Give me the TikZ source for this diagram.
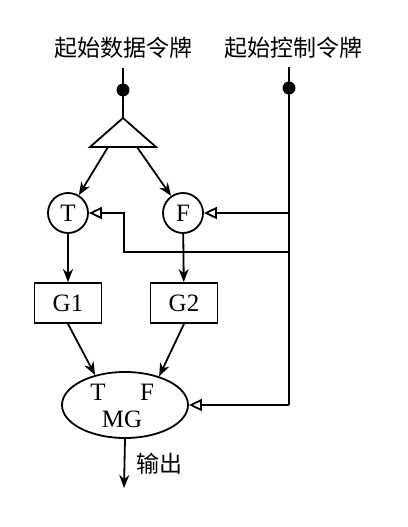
\documentclass[tikz,border=0pt]{standalone}
\usepackage{fontspec}
\setmainfont{Liberation Serif}
\newfontfamily\cjk{Noto Sans CJK SC}
\usetikzlibrary{arrows.meta, shapes.geometric, positioning}
\tikzset{
    tok/.style={font=\cjk\fontsize{23}{26}\selectfont},
    place/.style={draw, circle, minimum size=40pt, inner sep=0pt},
    gate/.style={draw, minimum width=67pt, minimum height=40pt, inner sep=0pt},
    merge/.style={draw, ellipse, minimum width=126pt, minimum height=66pt},
    tokdot/.style={circle, fill, inner sep=0pt, minimum size=13pt},
    dataarrow/.style={-{Stealth[length=13pt, width=10pt, inset=4pt]}},
    ctrlarrow/.style={-{Triangle[open, length=13pt, width=12pt]}},
}

\begin{document}
\begin{tikzpicture}[x=1pt, y=-1pt, line width=1.8pt,
        font=\fontsize{25}{28}\selectfont]
        \useasboundingbox (0, 0) rectangle (407, 527);
        \node[tok] (datalabel) at (123, 48) {起始数据令牌};
        \node[tok] (ctrllabel) at (293, 48) {起始控制令牌};
        \coordinate (datatop) at (123, 68);
        \coordinate (ctrltop) at (289, 67);
        \node[tokdot] (datadot) at (123, 90) {};
        \node[tokdot] (ctrldot) at (289, 88) {};
        % split
        \coordinate (apex) at (123, 118);
        \coordinate (baseL) at (90, 147);
        \coordinate (baseR) at (156, 147);
        \coordinate (outL) at (108, 147);
        \coordinate (outR) at (137, 147);
        \draw (datatop) -- (apex);
        \draw (apex) -- (baseL) -- (baseR) -- cycle;
        \node[place] (t) at (68, 213) {T};
        \node[place] (f) at (183, 213) {F};
        \draw[dataarrow] (outL) -- (t);
        \draw[dataarrow] (outR) -- (f);
        \node[gate] (g1) at (68, 303) {G1};
        \node[gate] (g2) at (184, 303) {G2};
        \draw[dataarrow] (t) -- (g1);
        \draw[dataarrow] (f) -- (g2);
        \node[merge] (mg) at (125, 405) {};
        \node (mgt) at (98, 392) {T};
        \node (mgf) at (147, 392) {F};
        \node (mgname) at (122, 419) {MG};
        \draw[dataarrow] (g1.south) -- (mg.135);
        \draw[dataarrow] (g2.south) -- (mg.40);
        \coordinate (out) at (124, 488);
        \draw[dataarrow] (mg.south) -- (out) node[pos=.5, right=8pt, tok] {输出};
        % control
        \coordinate (ctrlf) at (289, 213);
        \coordinate (ctrlt) at (289, 252);
        \coordinate (bend) at (124, 252);
        \coordinate (ctrlbottom) at (289, 405);
        \draw (ctrltop) -- (ctrlbottom);
        \draw[ctrlarrow] (ctrlf) -- (f.east);
        \draw[ctrlarrow] (ctrlt) -- (bend) |- (t.east);
        \draw[ctrlarrow] (ctrlbottom) -- (mg.east);
    \end{tikzpicture}
\end{document}
